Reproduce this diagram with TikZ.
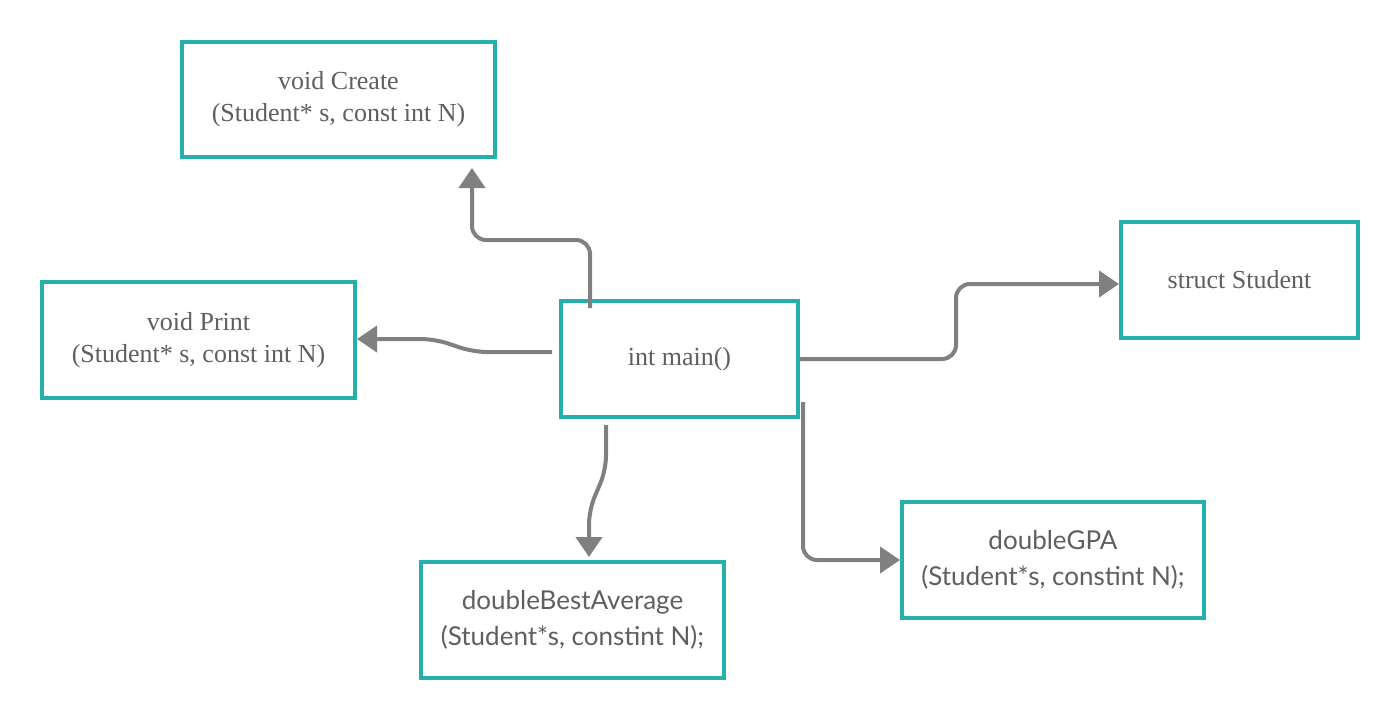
\documentclass[tikz,border=0pt]{standalone}
\usepackage{fontspec}
\setmainfont{Liberation Serif}
\newfontfamily\latofont{Lato}
\usetikzlibrary{arrows.meta, positioning}
\definecolor{boxteal}{RGB}{38,176,172}
\definecolor{linkgray}{RGB}{128,128,128}
\definecolor{textgray}{RGB}{95,95,95}

\begin{document}
\begin{tikzpicture}[x=1pt, y=-1pt,
    fnbox/.style={draw=boxteal, line width=4pt, fill=white, text=textgray, align=center,
        inner sep=0pt, minimum height=116pt, font=\fontsize{26}{32}\selectfont},
    lato/.style={font=\latofont\fontsize{26}{36}\selectfont},
    link/.style={draw=linkgray, line width=4pt, rounded corners=14pt,
        -{Triangle[length=20pt, width=26pt]}}]

    \useasboundingbox (0,0) rectangle (1400,720);

    % Boxes
    \node[fnbox, minimum width=313pt, minimum height=115pt] (create) at (338.5,99.5) {void Create\\(Student* s, const int N)};
    \node[fnbox, minimum width=313pt] (print) at (198.5,340) {void Print\\(Student* s, const int N)};
    \node[fnbox, minimum width=237pt] (main) at (679.5,359) {int main()};
    \node[fnbox, minimum width=237pt] (student) at (1239.5,280) {struct Student};
    \node[fnbox, lato, minimum width=303pt] (best) at (572.5,620) {doubleBestAverage\\(Student*s, constint N);};
    \node[fnbox, lato, minimum width=302pt] (gpa) at (1053,560) {doubleGPA\\(Student*s, constint N);};

    % Connectors
    \draw[link] ([shift={(-89.5,9)}]main.north) -- ++(0,-68) -| ([shift={(133.5,9)}]create.south);
    \draw[link] ([shift={(-7,-7)}]main.west) -- ++(-79,0) -- ++(-38,-13) -- ([shift={(0,-1)}]print.east);
    \draw[link] (main.east) -- ++(156,0) |- ([shift={(0,4)}]student.west);
    \draw[link] ([shift={(3,43)}]main.east) |- (gpa.west);
    \draw[link] ([shift={(-73.5,6)}]main.south) -- ++(0,45) -- ++(-17,40) -- ([shift={(16.5,-3)}]best.north);

\end{tikzpicture}
\end{document}
